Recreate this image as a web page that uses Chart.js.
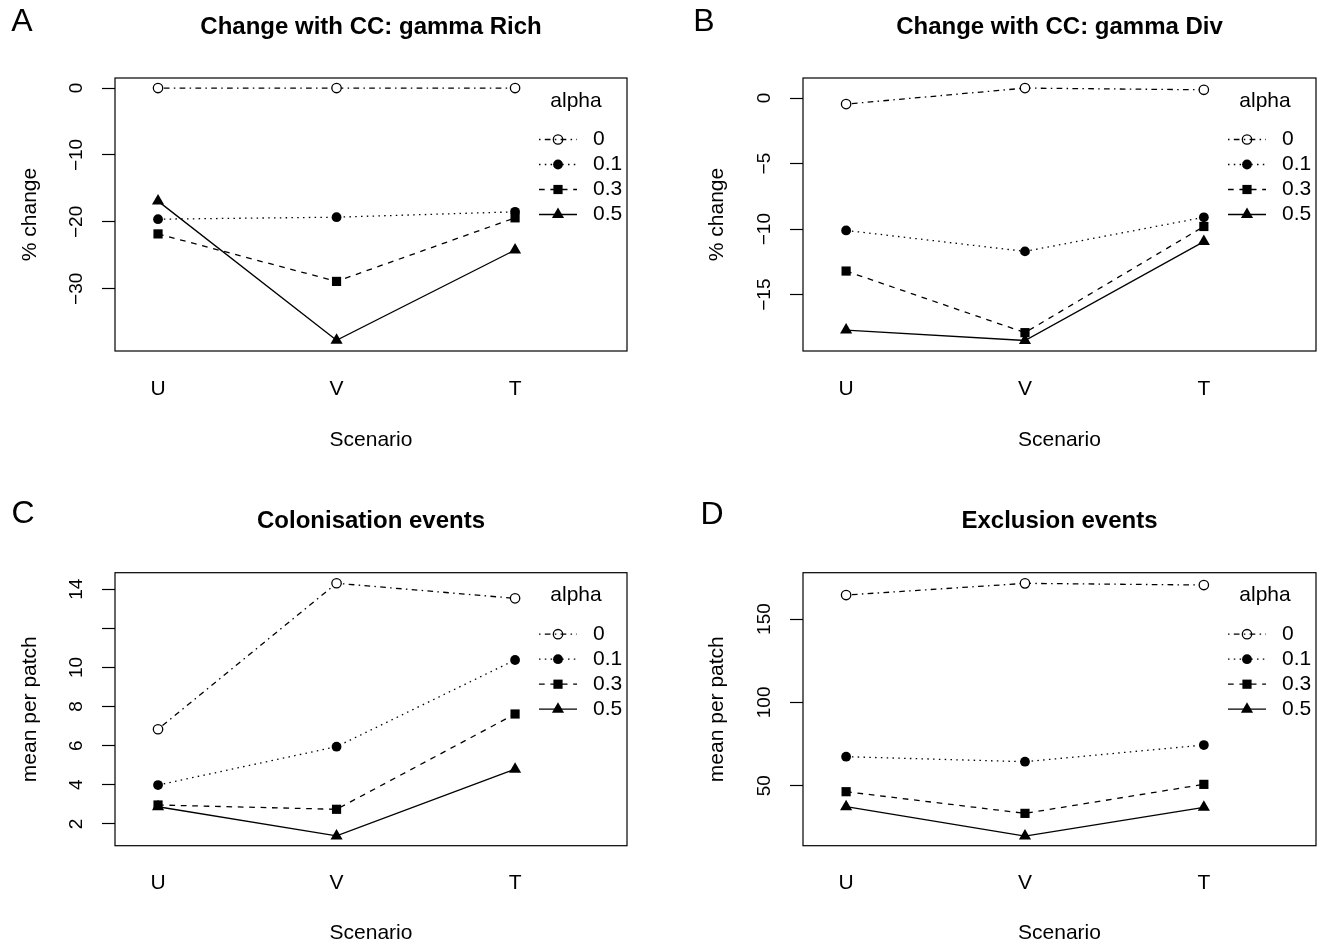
<!DOCTYPE html>
<html>
<head>
<meta charset="utf-8">
<script src="https://cdn.jsdelivr.net/npm/chart.js@4.4.1/dist/chart.umd.min.js"></script>
<style>
  html, body { margin: 0; padding: 0; background: #fff; }
  body { width: 1323px; height: 945px; position: relative; overflow: hidden; }
  .panel { position: absolute; }
  .panel canvas { display: block; }
</style>
</head>
<body>
<div class="panel" style="left:0px;top:0px"><canvas id="chartA" width="661" height="472"></canvas></div>
<div class="panel" style="left:661px;top:0px"><canvas id="chartB" width="662" height="472"></canvas></div>
<div class="panel" style="left:0px;top:472px"><canvas id="chartC" width="661" height="473"></canvas></div>
<div class="panel" style="left:661px;top:472px"><canvas id="chartD" width="662" height="473"></canvas></div>
<script>
// categories on the x axis, legend entries
const scenarios = ['U', 'V', 'T'];
const alphaLevels = ['0', '0.1', '0.3', '0.5'];

// A - change in gamma richness (%)
const richAlpha0 = [0, 0, 0];
const richAlpha01 = [-19.6, -19.3, -18.5];
const richAlpha03 = [-21.8, -28.9, -19.4];
const richAlpha05 = [-16.9, -37.7, -24.2];
const richTicks = [-30, -20, -10, 0];
const richTickLabels = ['\u221230', '\u221220', '\u221210', '0'];

// B - change in gamma diversity (%)
const divAlpha0 = [-0.46, 0.76, 0.63];
const divAlpha01 = [-10.1, -11.7, -9.1];
const divAlpha03 = [-13.2, -17.9, -9.8];
const divAlpha05 = [-17.7, -18.5, -10.95];
const divTicks = [-15, -10, -5, 0];
const divTickLabels = ['\u221215', '\u221210', '\u22125', '0'];

// C - colonisation events, mean per patch
const colAlpha0 = [6.84, 14.3, 13.53];
const colAlpha01 = [3.99, 5.95, 10.38];
const colAlpha03 = [2.97, 2.75, 7.62];
const colAlpha05 = [2.88, 1.39, 4.8];
const colTicks = [2, 4, 6, 8, 10, 12, 14];
const colTickLabels = ['2', '4', '6', '8', '10', '', '14'];

// D - exclusion events, mean per patch
const excAlpha0 = [164.4, 171.4, 170.4];
const excAlpha01 = [67.4, 64.4, 74.4];
const excAlpha03 = [46.4, 33.4, 50.8];
const excAlpha05 = [37.4, 19.8, 37.0];
const excTicks = [50, 100, 150];
const excTickLabels = ['50', '100', '150'];

Chart.defaults.font.family = '"Liberation Sans", Arial, Helvetica, sans-serif';
Chart.defaults.color = '#000';

// line type + plotting symbol per alpha level (R lty 4/3/2/1, pch 1/16/15/17)
const seriesStyles = [
  { dash: [1.5, 4.3, 5.7, 4.3], pointStyle: 'circle', radius: 4.7, fill: '#fff', border: 1.3 },
  { dash: [1.5, 4.3], pointStyle: 'circle', radius: 4.9, fill: '#000', border: 0 },
  { dash: [5.7, 5.7], pointStyle: 'rect', radius: 6.5, fill: '#000', border: 0 },
  { dash: [], pointStyle: 'triangle', radius: 7, fill: '#000', border: 0 }
];

// plot box around the chart area
const boxPlugin = {
  id: 'plotBox',
  afterDatasetsDraw(chart) {
    const { ctx, chartArea: a } = chart;
    ctx.save();
    ctx.strokeStyle = '#000';
    ctx.lineWidth = 1.2;
    ctx.strokeRect(a.left, a.top, a.right - a.left, a.bottom - a.top);
    ctx.restore();
  }
};

// R style legend (no frame) in the top right of the plot region
const rLegendPlugin = {
  id: 'rLegend',
  afterDraw(chart, args, opts) {
    const { ctx, chartArea: a } = chart;
    const R = a.right, T = a.top;
    ctx.save();
    ctx.fillStyle = '#000';
    ctx.font = '21px "Liberation Sans", Arial, sans-serif';
    ctx.textBaseline = 'middle';
    ctx.textAlign = 'center';
    ctx.fillText(opts.title, R - 51, T + 23);
    chart.data.datasets.forEach((ds, i) => {
      const y = T + 61.5 + 25 * i;
      ctx.strokeStyle = '#000';
      ctx.lineWidth = 1.3;
      ctx.setLineDash(ds.borderDash);
      ctx.beginPath();
      ctx.moveTo(R - 88, y);
      ctx.lineTo(R - 50, y);
      ctx.stroke();
      ctx.setLineDash([]);
      ctx.fillStyle = ds.pointBackgroundColor === '#fff' ? 'rgba(0,0,0,0)' : ds.pointBackgroundColor;
      ctx.strokeStyle = ds.pointBorderColor;
      ctx.lineWidth = ds.pointBorderWidth;
      Chart.helpers.drawPoint(ctx, {
        pointStyle: ds.pointStyle, radius: ds.pointRadius,
        borderWidth: ds.pointBorderWidth, rotation: 0
      }, R - 69, y);
      ctx.fillStyle = '#000';
      ctx.textAlign = 'left';
      ctx.fillText(ds.label, R - 34, y);
    });
    ctx.restore();
  }
};

// panel letter in the top left corner
const letterPlugin = {
  id: 'panelLetter',
  afterDraw(chart, args, opts) {
    const ctx = chart.ctx;
    ctx.save();
    ctx.fillStyle = '#000';
    ctx.font = '32px "Liberation Sans", Arial, sans-serif';
    ctx.textAlign = 'center';
    ctx.textBaseline = 'middle';
    ctx.fillText(opts.text, opts.x, opts.y);
    ctx.restore();
  }
};

function makePanel(id, p) {
  const canvas = document.getElementById(id);
  const W = canvas.width, H = canvas.height;
  const datasets = p.series.map((vals, i) => {
    const s = seriesStyles[i];
    return {
      label: alphaLevels[i],
      data: vals.map((v, j) => ({ x: j + 1, y: v })),
      borderColor: '#000',
      borderWidth: 1.3,
      borderDash: s.dash,
      pointStyle: s.pointStyle,
      pointRadius: s.radius,
      pointBackgroundColor: s.fill,
      pointBorderColor: '#000',
      pointBorderWidth: s.border,
      tension: 0,
      clip: false
    };
  });
  return new Chart(canvas, {
    type: 'line',
    data: { datasets },
    plugins: [boxPlugin, rLegendPlugin, letterPlugin],
    options: {
      responsive: false,
      animation: false,
      events: [],
      layout: { padding: { left: 0, top: 0, right: W - p.area.right, bottom: 0 } },
      plugins: {
        legend: { display: false },
        tooltip: { enabled: false },
        title: {
          display: true,
          text: p.title,
          fullSize: false,
          color: '#000',
          font: { size: 24, weight: 'bold', lineHeight: 1.2 },
          padding: { top: p.titleCenter - 14.4, bottom: p.area.top - p.titleCenter - 14.4 }
        },
        rLegend: { title: 'alpha' },
        panelLetter: p.letter
      },
      scales: {
        x: {
          type: 'linear',
          min: 0.759,
          max: 3.627,
          afterBuildTicks: (axis) => { axis.ticks = scenarios.map((s, i) => ({ value: i + 1 })); },
          afterFit: (axis) => { axis.height = H - p.area.bottom; },
          grid: { display: false, drawTicks: false },
          border: { display: false },
          ticks: {
            autoSkip: false,
            maxRotation: 0,
            padding: 25.2,
            font: { size: 21 },
            color: '#000',
            callback: (v) => scenarios[Math.round(v) - 1]
          },
          title: {
            display: true,
            text: 'Scenario',
            color: '#000',
            font: { size: 21, lineHeight: 1 },
            padding: { top: 0, bottom: p.xTitleBottom }
          }
        },
        y: {
          type: 'linear',
          min: p.min,
          max: p.max,
          afterBuildTicks: (axis) => { axis.ticks = p.ticks.map(v => ({ value: v })); },
          afterFit: (axis) => { axis.width = p.area.left; },
          grid: { display: true, drawOnChartArea: false, drawTicks: true, tickLength: 13, tickWidth: 1.2, tickColor: '#000' },
          border: { display: false },
          ticks: {
            autoSkip: false,
            minRotation: 90,
            maxRotation: 90,
            crossAlign: 'center',
            padding: p.tickPad,
            font: { size: 19 },
            color: '#000',
            callback: (v, i) => p.tickLabels[i]
          },
          title: {
            display: true,
            text: p.yLabel,
            color: '#000',
            font: { size: 21, lineHeight: 1 },
            padding: { top: p.yTitleX - 10.5, bottom: 0 }
          }
        }
      }
    }
  });
}

makePanel('chartA', {
  title: 'Change with CC: gamma Rich', yLabel: '% change',
  series: [richAlpha0, richAlpha01, richAlpha03, richAlpha05],
  ticks: richTicks, tickLabels: richTickLabels, min: -39.3, max: 1.5,
  area: { left: 115, top: 78, right: 627, bottom: 351 },
  titleCenter: 27, xTitleBottom: 21.5, yTitleX: 30, tickPad: 9.2,
  letter: { text: 'A', x: 22, y: 22 }
});
makePanel('chartB', {
  title: 'Change with CC: gamma Div', yLabel: '% change',
  series: [divAlpha0, divAlpha01, divAlpha03, divAlpha05],
  ticks: divTicks, tickLabels: divTickLabels, min: -19.3, max: 1.53,
  area: { left: 142, top: 78, right: 655, bottom: 351 },
  titleCenter: 27, xTitleBottom: 21.5, yTitleX: 56, tickPad: 9.2,
  letter: { text: 'B', x: 43, y: 22 }
});
makePanel('chartC', {
  title: 'Colonisation events', yLabel: 'mean per patch',
  series: [colAlpha0, colAlpha01, colAlpha03, colAlpha05],
  ticks: colTicks, tickLabels: colTickLabels, min: 0.89, max: 14.84,
  area: { left: 115, top: 100.7, right: 627, bottom: 373.7 },
  titleCenter: 49, xTitleBottom: 1.5, yTitleX: 30, tickPad: 14.5,
  letter: { text: 'C', x: 23, y: 42 }
});
makePanel('chartD', {
  title: 'Exclusion events', yLabel: 'mean per patch',
  series: [excAlpha0, excAlpha01, excAlpha03, excAlpha05],
  ticks: excTicks, tickLabels: excTickLabels, min: 14.0, max: 177.8,
  area: { left: 142, top: 100.7, right: 655, bottom: 373.7 },
  titleCenter: 49, xTitleBottom: 1.5, yTitleX: 56, tickPad: 9.2,
  letter: { text: 'D', x: 51, y: 43 }
});
</script>
</body>
</html>
